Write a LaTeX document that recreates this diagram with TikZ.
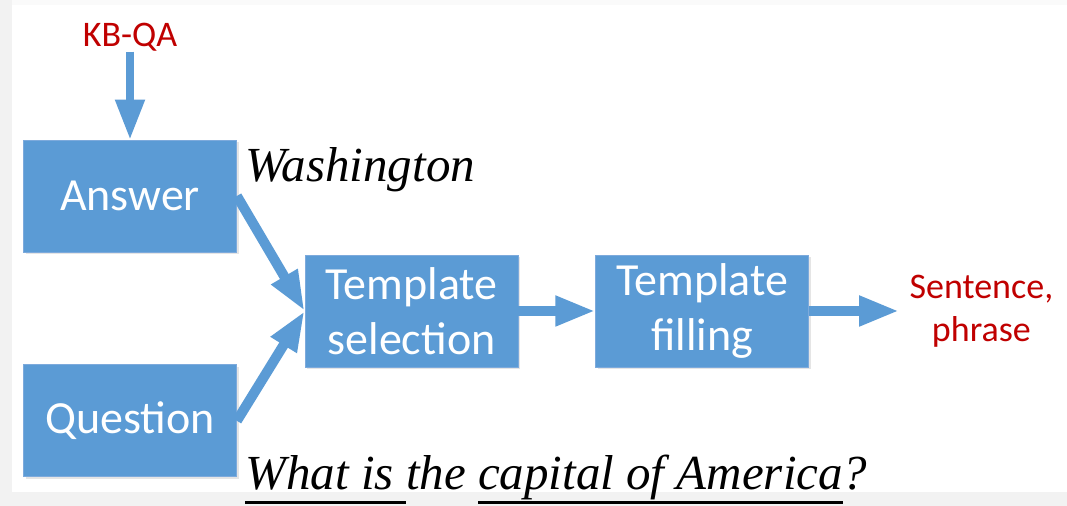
\documentclass[tikz,border=0pt]{standalone}
\usepackage{fontspec}
\setmainfont{Liberation Serif}
\newfontfamily\calibri{Carlito}
\usetikzlibrary{arrows.meta,positioning,shadows}
\definecolor{boxblue}{RGB}{91,155,213}
\definecolor{boxedge}{RGB}{125,170,220}
\definecolor{outred}{RGB}{192,0,0}
% underline at a fixed depth below the baseline
\newcommand{\undl}[1]{\setbox0\hbox{#1}\rlap{\rule[-7pt]{\wd0}{1.5pt}}\box0}

\begin{document}
\begin{tikzpicture}[
  x=0.5pt, y=-0.5pt,
  node distance = 38.5pt and 38.5pt,
  stage/.style = {rectangle, draw=boxedge, line width=0.4pt, fill=boxblue,
                  minimum width=106.5pt, minimum height=56pt, align=center,
                  text=white, font=\calibri\fontsize{23}{27.5}\selectfont,
                  drop shadow={opacity=0.2, shadow xshift=1pt, shadow yshift=-1pt}},
  tag/.style = {text=outred, align=center, inner sep=5pt,
                font=\calibri\fontsize{18}{21.5}\selectfont},
  note/.style = {anchor=base west, inner sep=0pt,
                 font=\itshape\fontsize{24.5}{28}\selectfont},
  flow/.style = {-{Triangle[length=20pt,width=14pt]}, line width=5pt, draw=boxblue}
]
\useasboundingbox (0,0) rectangle (1067,506);

% Slide background
\fill[black!5] (0,0) rectangle (1067,506);
\fill[black!2] (12,0) rectangle (1067,5);
\fill[white] (12,5) rectangle (1067,492);

% Inputs on the left
\node[stage] (answer) at (130,196) {Answer};
\node[stage, below=56pt of answer] (question) {Question};
\node[tag, inner sep=0pt, above=44pt of answer] (kbqa) {KB-QA};

% Pipeline
\node[stage] (tsel) at (411.5,311) {Template\\selection};
\node[stage, right=38.5pt of tsel] (tfill) {Template\\filling};
\node[tag, right=45pt of tfill] (result) {Sentence,\\phrase};

% Example texts
\node[note] (ans-text) at (245,182) {Washington};
\node[note] (q-text) at (245,490) {\undl{What is }the \undl{capital of America}?};

% Arrows
\draw[flow, line width=4pt] (kbqa) -- (answer);
\draw[flow] (answer.east) -- (tsel.west);
\draw[flow] (question.east) -- (tsel.west);
\draw[flow] (tsel) -- (tfill);
\draw[flow] (tfill) -- (result);

\end{tikzpicture}
\end{document}
